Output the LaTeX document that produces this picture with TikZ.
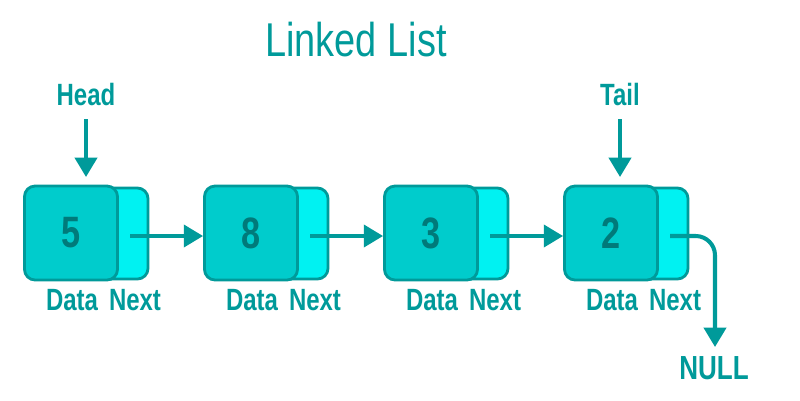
\documentclass[tikz,border=0pt]{standalone}
\usepackage{fontspec}
\setmainfont{Liberation Sans}[FakeStretch=0.78]
\newfontfamily\titlefont{Liberation Sans}[FakeStretch=0.8]
\usetikzlibrary{arrows.meta}
\definecolor{tealline}{HTML}{009A9A}
\definecolor{datafill}{HTML}{00CCCC}
\definecolor{nextfill}{HTML}{00F2F2}
\definecolor{numcol}{HTML}{007A7A}
\tikzset{
  databox/.style={draw=tealline, line width=1.6pt, fill=datafill, rounded corners=6pt, minimum width=1.86cm, minimum height=1.88cm, inner sep=0pt, font=\fontsize{25}{25}\selectfont\bfseries, text=numcol},
  nextbox/.style={draw=tealline, line width=1.6pt, fill=nextfill, rounded corners=6pt, minimum width=1.3cm, minimum height=1.82cm, inner sep=0pt},
  lbl/.style={text=tealline, font=\fontsize{17.5}{18}\selectfont\bfseries, inner sep=0pt},
  link/.style={draw=tealline, line width=2.3pt, -{Triangle[length=11pt,width=12.5pt]}},
}
\begin{document}
\begin{tikzpicture}[x=0.02cm,y=-0.02cm]
\useasboundingbox (0,0) rectangle (800,400);
\node[text=tealline, font=\titlefont\fontsize{27}{28}\selectfont, inner sep=0pt] (title) at (356,40) {Linked List};
\foreach \i/\v/\xx in {1/5/71,2/8/251,3/3/431,4/2/611}{
  \node[nextbox] (n\i) at (\xx+44.5,233.5) {};
  \node[databox] (d\i) at (\xx,233) {\v};
  \node[lbl] (dl\i) at (\xx+1,300) {Data};
  \node[lbl] (nl\i) at (\xx+64,300) {Next};
  \coordinate (s\i) at (\xx+59,236);
}
\foreach \a/\b in {1/2,2/3,3/4}{
  \draw[link] (s\a) -- (d\b.west |- s\a);
}
\node[lbl] (head) at (86,95) {Head};
\node[lbl] (tail) at (620,95) {Tail};
\coordinate (hs) at (86,119);
\coordinate (he) at (86,177);
\coordinate (ts) at (620,119);
\coordinate (te) at (620,177);
\draw[link] (hs) -- (he);
\draw[link] (ts) -- (te);
\node[lbl, font=\fontsize{19}{20}\selectfont\bfseries] (null) at (714,368) {NULL};
\coordinate (c4) at (715,236);
\coordinate (ne) at (715,347);
\draw[link, rounded corners=11pt] (s4) -- (c4) -- (ne);
\end{tikzpicture}
\end{document}
